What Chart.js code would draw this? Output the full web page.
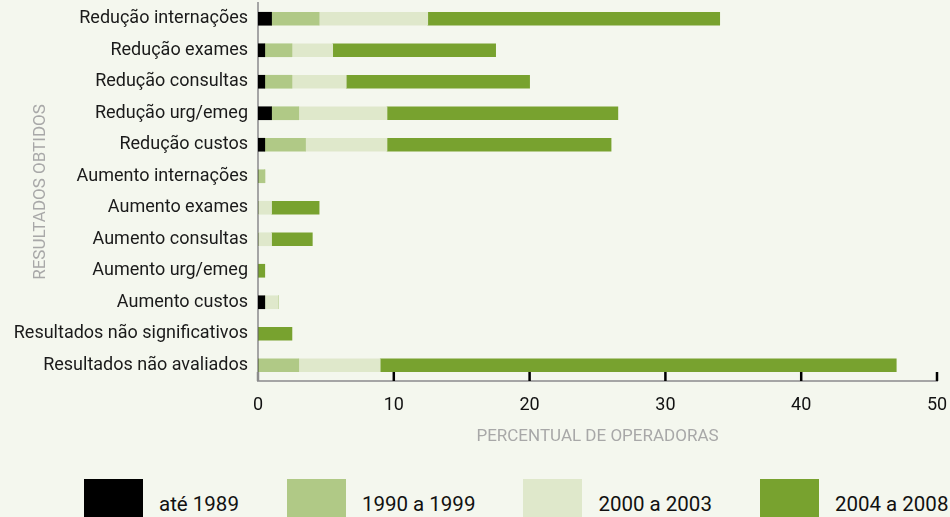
<!DOCTYPE html>
<html>
<head>
<meta charset="utf-8">
<script src="https://cdn.jsdelivr.net/npm/chart.js@4.4.1/dist/chart.umd.min.js"></script>
<style>
  html, body { margin: 0; padding: 0; background: #f4f7ee; overflow: hidden; }
  #wrap { position: relative; width: 950px; height: 517px; }
  #legend { position: absolute; left: 84px; top: 479px; display: flex; gap: 48px; white-space: nowrap; }
  .item { display: flex; align-items: flex-start; }
  .box { width: 59px; height: 40px; margin-right: 16px; flex: none; }
  .lbl { font-family: "Roboto", sans-serif; font-size: 20.5px; color: #111; line-height: 24px; margin-top: 13px; }
</style>
</head>
<body>
<div id="wrap">
  <canvas id="grafico" width="950" height="460"></canvas>
  <div id="legend"></div>
</div>
<script>
'use strict';

// dados
const categorias = [
    'Redução internações', 'Redução exames', 'Redução consultas', 'Redução urg/emeg',
    'Redução custos', 'Aumento internações', 'Aumento exames', 'Aumento consultas',
    'Aumento urg/emeg', 'Aumento custos', 'Resultados não significativos', 'Resultados não avaliados'
];
const periodos = ['até 1989', '1990 a 1999', '2000 a 2003', '2004 a 2008'];
const ate1989  = [1, 0.5, 0.5, 1, 0.5, 0, 0, 0, 0, 0.5, 0, 0];
const de1990   = [3.5, 2, 2, 2, 3, 0.5, 0, 0, 0, 0, 0, 3];
const de2000   = [8, 3, 4, 6.5, 6, 0, 1, 1, 0, 1, 0, 6];
const de2004   = [21.5, 12, 13.5, 17, 16.5, 0, 3.5, 3, 0.5, 0, 2.5, 38];
const cores    = ['#000000', '#b0c986', '#dfe8cb', '#78a22f'];
const eixoX    = [0, 10, 20, 30, 40, 50];

const fonte = '"Roboto", sans-serif';

(function () {
    const series = [ate1989, de1990, de2000, de2004];

    // marcas do eixo x (para dentro)
    const marcas = {
        id: 'marcas',
        afterDatasetsDraw(chart) {
            const sx = chart.scales.x;
            const ctx = chart.ctx;
            const base = chart.chartArea.bottom;
            ctx.save();
            eixoX.forEach(v => {
                const px = sx.getPixelForValue(v);
                ctx.strokeStyle = v === 0 ? '#8c8c8c' : '#000';
                ctx.lineWidth = 2.5;
                ctx.beginPath();
                ctx.moveTo(px, base - 9);
                ctx.lineTo(px, base);
                ctx.stroke();
            });
            ctx.restore();
        }
    };

    new Chart(document.getElementById('grafico'), {
        type: 'bar',
        data: {
            labels: categorias,
            datasets: series.map((d, i) => ({
                label: periodos[i],
                data: d,
                backgroundColor: cores[i],
                borderWidth: 0,
                barThickness: 13
            }))
        },
        options: {
            indexAxis: 'y',
            responsive: false,
            animation: false,
            layout: { padding: { top: 3, right: 13, left: 0, bottom: 0 } },
            plugins: {
                legend: { display: false },
                tooltip: { enabled: false }
            },
            scales: {
                x: {
                    stacked: true,
                    min: 0,
                    max: 50,
                    grid: { display: false, drawTicks: false },
                    border: { color: '#a5a5a5', width: 2 },
                    ticks: {
                        stepSize: 10,
                        color: '#111',
                        padding: 14,
                        font: { family: fonte, size: 18 }
                    },
                    title: {
                        display: true,
                        text: 'PERCENTUAL DE OPERADORAS',
                        color: '#a8a8a8',
                        padding: { top: 0, bottom: 13 },
                        font: { family: fonte, size: 17 }
                    },
                    afterFit: s => {
                        s.height = 79;
                        s.paddingLeft = 0;
                        s.paddingRight = 0;
                    }
                },
                y: {
                    stacked: true,
                    grid: { display: false, drawTicks: false },
                    border: { color: '#a5a5a5', width: 2 },
                    ticks: {
                        color: '#1a1a1a',
                        padding: 10,
                        font: { family: fonte, size: 18 }
                    },
                    title: {
                        display: true,
                        text: 'RESULTADOS OBTIDOS',
                        color: '#a8a8a8',
                        padding: { top: 31, bottom: 0 },
                        font: { family: fonte, size: 17 }
                    },
                    afterFit: s => {
                        s.width = 258;
                        s.paddingTop = 0;
                        s.paddingBottom = 0;
                    }
                }
            }
        },
        plugins: [marcas]
    });

    // legenda
    const leg = document.getElementById('legend');
    periodos.forEach((p, i) => {
        const it = document.createElement('div');
        it.className = 'item';
        it.innerHTML = '<div class="box" style="background:' + cores[i] + '"></div><div class="lbl">' + p + '</div>';
        leg.appendChild(it);
    });
})();
</script>
</body>
</html>
